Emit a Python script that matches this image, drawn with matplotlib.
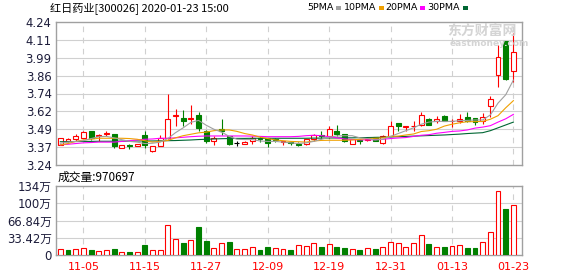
import matplotlib
matplotlib.use("Agg")
import matplotlib.pyplot as plt
from matplotlib.patches import Rectangle
import numpy as np

# ---- data ----
title = "红日药业[300026] 2020-01-23 15:00"
vol_title = "成交量:970697"

opens = [3.38, 3.41, 3.42, 3.43, 3.48, 3.445, 3.46, 3.46, 3.36, 3.38,
         3.37, 3.45, 3.34, 3.37, 3.43, 3.58, 3.57, 3.56, 3.587, 3.475,
         3.41, 3.49, 3.44, 3.394, 3.39, 3.41, 3.43, 3.43, 3.42, 3.40,
         3.40, 3.39, 3.385, 3.425, 3.447, 3.44, 3.48, 3.457, 3.39, 3.412,
         3.415, 3.434, 3.394, 3.445, 3.535, 3.505, 3.51, 3.52, 3.565, 3.545,
         3.585, 3.545, 3.55, 3.578, 3.567, 3.55, 3.655, 3.869, 4.107, 3.899]
highs = [3.43, 3.43, 3.455, 3.48, 3.48, 3.46, 3.475, 3.46, 3.38, 3.39,
         3.385, 3.48, 3.37, 3.45, 3.74, 3.63, 3.627, 3.66, 3.61, 3.487,
         3.44, 3.56, 3.44, 3.41, 3.41, 3.44, 3.44, 3.43, 3.43, 3.408,
         3.405, 3.40, 3.422, 3.457, 3.477, 3.51, 3.52, 3.46, 3.424, 3.42,
         3.435, 3.434, 3.448, 3.545, 3.535, 3.515, 3.545, 3.61, 3.568, 3.58,
         3.59, 3.56, 3.60, 3.613, 3.567, 3.606, 3.72, 4.079, 4.107, 4.161]
lows = [3.38, 3.40, 3.41, 3.43, 3.415, 3.405, 3.44, 3.36, 3.36, 3.35,
        3.37, 3.36, 3.33, 3.37, 3.42, 3.51, 3.51, 3.53, 3.475, 3.394,
        3.382, 3.45, 3.38, 3.37, 3.385, 3.39, 3.40, 3.364, 3.40, 3.382,
        3.38, 3.375, 3.382, 3.41, 3.42, 3.43, 3.44, 3.40, 3.39, 3.39,
        3.405, 3.405, 3.389, 3.44, 3.475, 3.475, 3.475, 3.515, 3.52, 3.535,
        3.545, 3.505, 3.532, 3.543, 3.52, 3.527, 3.578, 3.788, 3.834, 3.822]
closes = [3.43, 3.42, 3.44, 3.47, 3.43, 3.45, 3.465, 3.37, 3.38, 3.37,
          3.385, 3.38, 3.37, 3.43, 3.56, 3.59, 3.545, 3.57, 3.50, 3.41,
          3.43, 3.475, 3.39, 3.394, 3.40, 3.43, 3.42, 3.394, 3.415, 3.405,
          3.392, 3.382, 3.422, 3.452, 3.443, 3.494, 3.459, 3.405, 3.424, 3.408,
          3.42, 3.405, 3.445, 3.51, 3.51, 3.51, 3.515, 3.59, 3.52, 3.565,
          3.55, 3.55, 3.565, 3.55, 3.543, 3.578, 3.701, 3.993, 3.841, 4.028]

ma5 = [3.392, 3.400, 3.405, 3.410, 3.425, 3.438, 3.440, 3.430, 3.417, 3.405,
       3.400, 3.390, 3.392, 3.400, 3.425, 3.466, 3.500, 3.538, 3.552, 3.518,
       3.490, 3.470, 3.440, 3.420, 3.418, 3.418, 3.408, 3.405, 3.405, 3.400,
       3.395, 3.390, 3.395, 3.405, 3.420, 3.434, 3.443, 3.445, 3.445, 3.430,
       3.425, 3.415, 3.420, 3.440, 3.460, 3.480, 3.500, 3.525, 3.540, 3.545,
       3.545, 3.545, 3.550, 3.552, 3.555, 3.555, 3.590, 3.673, 3.731, 3.834]
ma10 = [3.380, 3.390, 3.405, 3.415, 3.420, 3.427, 3.427, 3.427, 3.427, 3.425,
        3.420, 3.410, 3.400, 3.405, 3.412, 3.430, 3.445, 3.455, 3.465, 3.470,
        3.480, 3.485, 3.485, 3.475, 3.460, 3.450, 3.435, 3.425, 3.415, 3.410,
        3.405, 3.403, 3.400, 3.408, 3.412, 3.413, 3.413, 3.413, 3.415, 3.420,
        3.425, 3.427, 3.430, 3.440, 3.442, 3.450, 3.457, 3.474, 3.480, 3.490,
        3.512, 3.525, 3.535, 3.543, 3.543, 3.545, 3.560, 3.585, 3.640, 3.690]
ma20 = [3.382, 3.385, 3.390, 3.395, 3.397, 3.400, 3.400, 3.400, 3.405, 3.410,
        3.415, 3.420, 3.422, 3.427, 3.427, 3.430, 3.434, 3.438, 3.441, 3.443,
        3.443, 3.443, 3.443, 3.443, 3.443, 3.442, 3.440, 3.438, 3.438, 3.438,
        3.438, 3.440, 3.445, 3.448, 3.445, 3.438, 3.430, 3.422, 3.418, 3.416,
        3.416, 3.417, 3.420, 3.425, 3.429, 3.432, 3.440, 3.448, 3.452, 3.462,
        3.468, 3.475, 3.478, 3.485, 3.498, 3.505, 3.515, 3.540, 3.563, 3.594]
ma30 = [3.403, 3.403, 3.404, 3.405, 3.405, 3.406, 3.406, 3.406, 3.407, 3.407,
        3.408, 3.408, 3.408, 3.409, 3.410, 3.411, 3.413, 3.415, 3.418, 3.420,
        3.422, 3.424, 3.425, 3.426, 3.426, 3.427, 3.427, 3.427, 3.427, 3.427,
        3.427, 3.427, 3.427, 3.428, 3.428, 3.429, 3.429, 3.430, 3.430, 3.431,
        3.432, 3.433, 3.434, 3.436, 3.438, 3.440, 3.442, 3.444, 3.446, 3.448,
        3.450, 3.453, 3.456, 3.460, 3.463, 3.466, 3.480, 3.500, 3.520, 3.540]

# volume in 万 (10k)
volume = [11.6, 9.7, 11.6, 12.9, 9.7, 7.7, 9.7, 11.6, 5.2, 6.5,
          5.8, 19.4, 9.7, 9.7, 58.1, 30.3, 23.9, 29.1, 54.2, 27.8,
          13.6, 23.2, 25.8, 11.6, 11.6, 14.9, 9.7, 15.5, 12.9, 11.6,
          9.7, 18.7, 17.4, 23.2, 15.5, 21.3, 15.5, 13.6, 11.6, 9.7,
          13.6, 11.6, 14.8, 25.2, 23.2, 14.8, 23.2, 38.1, 21.3, 14.8,
          15.5, 17.4, 18.7, 13.6, 13.6, 25.2, 44.6, 124.0, 89.1, 97.07]
vol_up = [1, 0, 1, 1, 0, 1, 1, 0, 1, 0,
          1, 0, 1, 1, 1, 1, 0, 1, 0, 0,
          1, 1, 0, 1, 1, 1, 0, 0, 1, 1,
          0, 1, 1, 1, 0, 1, 0, 0, 1, 0,
          1, 0, 1, 1, 1, 1, 1, 1, 0, 1,
          0, 1, 1, 0, 0, 1, 1, 1, 0, 1]

date_idx = [3, 11, 19, 27, 35, 43, 51, 59]
date_labels = ["11-05", "11-15", "11-27", "12-09", "12-19", "12-31", "01-13", "01-23"]

price_ticks = [3.24, 3.365, 3.49, 3.615, 3.74, 3.865, 3.99, 4.115, 4.24]
price_labels = ["3.24", "3.37", "3.49", "3.62", "3.74", "3.86", "3.99", "4.11", "4.24"]
vol_ticks = [0, 33.42, 66.84, 100.26, 133.68]
vol_labels = ["0", "33.42万", "66.84万", "100万", "134万"]

ma_names = ["5PMA", "10PMA", "20PMA", "30PMA"]

# ---- styling ----
RED = "#ff0000"
GREEN = "#008000"
GRID = "#d0d0d0"
BORDER = "#a0a0a0"
TXT = "#1c1c3a"
ma_colors = ["#a0a0a0", "#f0a000", "#ff00ff", "#006633"]
CJK = ["Noto Sans CJK SC", "DejaVu Sans"]
LAT = ["DejaVu Sans", "Noto Sans CJK SC"]
LW = 0.8

W, H = 578, 276
fig = plt.figure(figsize=(W / 100, H / 100), dpi=100)
fig.patch.set_facecolor("white")


def box(l, t, r, b):
    return [l / W, 1 - b / H, (r - l) / W, (b - t) / H]


def fx(px):
    return px / W


def fy(py):
    return 1 - py / H


ax = fig.add_axes(box(55.8, 22, 522.3, 165))
axv = fig.add_axes(box(55.8, 186, 522.3, 255))

n = len(closes)
x = np.arange(n)
o = np.array(opens)
c = np.array(closes)
hi = np.array(highs)
lo = np.array(lows)
bw = 0.64

for a in (ax, axv):
    a.set_xlim(-0.59, n + 0.16)
    for s in a.spines.values():
        s.set_color(BORDER)
        s.set_linewidth(1.0)
    a.set_xticks(date_idx)
    a.tick_params(length=0)
    for xi in date_idx:
        a.axvline(xi, color=GRID, lw=LW, ls=(0, (5, 5)), zorder=0)

# price panel
ax.set_ylim(3.24, 4.24)
ax.set_yticks(price_ticks)
ax.set_yticklabels(price_labels, fontsize=8.4, color=TXT, family=LAT)
ax.tick_params(axis="y", pad=3)
ax.set_xticklabels([])
for t in price_ticks[1:-1]:
    ax.axhline(t, color=GRID, lw=LW, zorder=0)

for i in range(n):
    if c[i] > o[i]:
        col, face = RED, "white"
    elif c[i] < o[i]:
        col, face = GREEN, GREEN
    else:
        col, face = "black", "black"
    top = max(o[i], c[i])
    bot = min(o[i], c[i])
    ax.vlines(x[i], top, hi[i], color=col, lw=LW, zorder=2)
    ax.vlines(x[i], lo[i], bot, color=col, lw=LW, zorder=2)
    if top == bot:
        ax.hlines(top, x[i] - bw / 2, x[i] + bw / 2, color=col, lw=LW, zorder=3)
    else:
        ax.add_patch(Rectangle((x[i] - bw / 2, bot), bw, top - bot,
                               facecolor=face, edgecolor=col, lw=LW, zorder=3))

for vals, colr in zip([ma30, ma20, ma10, ma5], ma_colors[::-1]):
    ax.plot(x, vals, color=colr, lw=LW, zorder=4)

# volume panel
axv.set_ylim(0, 133.68)
axv.set_yticks(vol_ticks)
axv.set_yticklabels(vol_labels, fontsize=8.4, color=TXT, family=LAT)
axv.tick_params(axis="y", pad=3)
axv.set_xticklabels(date_labels, fontsize=8, color=RED, family=LAT)
axv.tick_params(axis="x", pad=5)
for t in vol_ticks[1:-1]:
    axv.axhline(t, color=GRID, lw=LW, zorder=0)

for i in range(n):
    if vol_up[i]:
        axv.add_patch(Rectangle((x[i] - bw / 2, 0), bw, volume[i],
                                facecolor="white", edgecolor=RED, lw=LW, zorder=3))
    else:
        axv.add_patch(Rectangle((x[i] - bw / 2, 0), bw, volume[i],
                                facecolor=GREEN, edgecolor=GREEN, lw=LW, zorder=3))

# texts
fig.text(fx(50), fy(8), title, fontsize=8, family=CJK, color="black", va="center", ha="left")
fig.text(fx(58), fy(177), vol_title, fontsize=8.5, family=CJK, color="black", va="center", ha="left")

leg_x = [307, 344, 385, 427]
for name, colr, lx in zip(ma_names, ma_colors, leg_x):
    t = fig.text(fx(lx), fy(8), name, fontsize=6.8, family=LAT, color="black",
                 va="center", ha="left")
    fig.canvas.draw()
    bb = t.get_window_extent()
    sx = bb.x1 + 3
    fig.patches.append(Rectangle((fx(sx), fy(10)), 5 / W, 4 / H, transform=fig.transFigure,
                                 facecolor=colr, edgecolor="none", figure=fig))

# watermark
fig.text(fx(447), fy(31), "东方财富网", fontsize=10, family=CJK, color="#d4d4d4",
         va="center", ha="left", fontweight="bold")
fig.text(fx(450), fy(43), "eastmoney.com", fontsize=6.5, family=LAT, color="#d4d4d4",
         va="center", ha="left", fontweight="bold")

fig.savefig("out.png", dpi=100, facecolor="white")
